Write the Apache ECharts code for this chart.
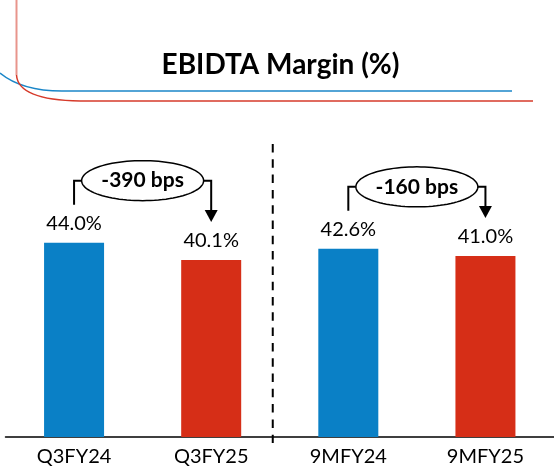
<!DOCTYPE html>
<html>
<head>
<meta charset="utf-8">
<script src="https://cdn.jsdelivr.net/npm/echarts@6/dist/echarts.min.js"></script>
<style>
html,body{margin:0;padding:0;background:#fff;}
#chart{width:554px;height:471px;}
</style>
</head>
<body>
<div id="chart"></div>
<script>
// ---- data ----
const categories = ['Q3FY24', 'Q3FY25', '9MFY24', '9MFY25'];
const marginValues = [44.0, 40.1, 42.6, 41.0];
const barColors = ['#0A80C6', '#D62E17', '#0A80C6', '#D62E17'];
const changePairs = [[0, 1], [2, 3]];
const changeLabels = ['-390 bps', '-160 bps'];
const chartTitle = 'EBIDTA Margin (%)';

const FONT = 'Lato';
const chart = echarts.init(document.getElementById('chart'), null, {renderer: 'canvas'});

chart.setOption({
  animation: false,
  backgroundColor: '#ffffff',
  grid: {left: 5.5, width: 552, top: 172, bottom: 34},
  xAxis: {
    type: 'category',
    data: categories,
    axisLine: {show: true, lineStyle: {color: '#000', width: 1.5}},
    axisTick: {show: false},
    axisLabel: {color: '#000', fontFamily: FONT, fontSize: 20, margin: 10}
  },
  yAxis: {
    type: 'value', min: 0, max: 60, show: false,
    splitLine: {show: false}
  },
  series: [{
    type: 'bar',
    barWidth: 60,
    data: marginValues.map((v, i) => ({value: v, itemStyle: {color: barColors[i]}})),
    label: {
      show: true, position: 'top', distance: 9,
      color: '#000', fontFamily: FONT, fontSize: 20,
      formatter: p => p.value.toFixed(1) + '%'
    }
  }]
});

function px(i) {
  return chart.convertToPixel({xAxisIndex: 0, yAxisIndex: 0}, [i, marginValues[i]]);
}

const g = [];
// title
g.push({
  type: 'text', x: 280.5, y: 65, z: 10,
  style: {text: chartTitle, fill: '#000', font: 'bold 28px ' + FONT, align: 'center', verticalAlign: 'middle'}
});
// decorative corner lines
g.push({
  type: 'bezierCurve', z: 5,
  shape: {x1: 0, y1: 73, cpx1: 22, cpy1: 91, x2: 62, y2: 91},
  style: {fill: null, stroke: '#1A86C8', lineWidth: 1.5}
});
g.push({
  type: 'line', z: 5,
  shape: {x1: 62, y1: 91, x2: 512, y2: 91},
  style: {stroke: '#1A86C8', lineWidth: 1.5}
});
g.push({
  type: 'line', z: 5,
  shape: {x1: 16.5, y1: 0, x2: 16.5, y2: 75},
  style: {stroke: '#E8958C', lineWidth: 2}
});
g.push({
  type: 'bezierCurve', z: 5,
  shape: {x1: 16.5, y1: 75, cpx1: 18, cpy1: 100, x2: 80, y2: 101},
  style: {fill: null, stroke: '#D63A2A', lineWidth: 1.5}
});
g.push({
  type: 'line', z: 5,
  shape: {x1: 80, y1: 101, x2: 533, y2: 101},
  style: {stroke: '#D63A2A', lineWidth: 1.5}
});

// dashed separator between the two groups
const p1 = px(1), p2 = px(2);
const baseY = chart.convertToPixel({yAxisIndex: 0}, 0);
const sepX = (p1[0] + p2[0]) / 2 - 7;
g.push({
  type: 'line', z: 6,
  shape: {x1: sepX, y1: 144, x2: sepX, y2: baseY + 6},
  style: {stroke: '#000', lineWidth: 2, lineDash: [8.5, 6.8]}
});

function ellipsePoints(cx, cy, rx, ry) {
  const pts = [];
  for (let t = 0; t < 96; t++) {
    const a = t / 96 * Math.PI * 2;
    pts.push([cx + rx * Math.cos(a), cy + ry * Math.sin(a)]);
  }
  return pts;
}

// change annotations
changePairs.forEach((pair, k) => {
  const a = px(pair[0]), b = px(pair[1]);
  const xL = a[0], xR = b[0];
  const topA = a[1], topB = b[1];
  const by = topA - 62;
  const cx = (xL + xR) / 2, rx = 61, ry = 20;
  const tipY = topB - 38;
  g.push({
    type: 'polyline', z: 8,
    shape: {points: [[xL, topA - 38], [xL, by], [cx - rx, by]]},
    style: {fill: null, stroke: '#000', lineWidth: 2}
  });
  g.push({
    type: 'polyline', z: 8,
    shape: {points: [[cx + rx, by], [xR, by], [xR, tipY - 11]]},
    style: {fill: null, stroke: '#000', lineWidth: 2}
  });
  g.push({
    type: 'polygon', z: 8,
    shape: {points: [[xR - 6.5, tipY - 12], [xR + 6.5, tipY - 12], [xR, tipY]]},
    style: {fill: '#000'}
  });
  g.push({
    type: 'polygon', z: 9,
    shape: {points: ellipsePoints(cx, by, rx, ry)},
    style: {fill: '#fff', stroke: '#000', lineWidth: 1.5}
  });
  g.push({
    type: 'text', z: 10, x: cx, y: by,
    style: {text: changeLabels[k], fill: '#000', font: 'bold 21px ' + FONT, align: 'center', verticalAlign: 'middle'}
  });
});

chart.setOption({graphic: g});
</script>
</body>
</html>
